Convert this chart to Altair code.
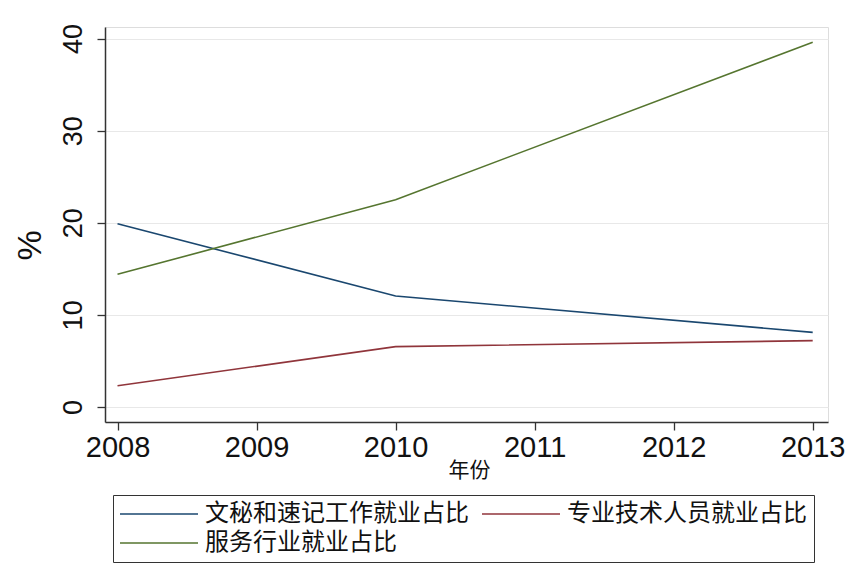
import altair as alt
import pandas as pd

# Data
years = [2008, 2010, 2013]
series_names = ["文秘和速记工作就业占比", "专业技术人员就业占比", "服务行业就业占比"]
secretarial = [19.9, 12.05, 8.1]
professional = [2.3, 6.55, 7.2]
service = [14.4, 22.5, 39.6]
x_ticks = [2008, 2009, 2010, 2011, 2012, 2013]
y_ticks = [0, 10, 20, 30, 40]
colors = ["#1a476f", "#90353b", "#55752f"]

rows = []
for name, vals in zip(series_names, [secretarial, professional, service]):
    for yr, v in zip(years, vals):
        rows.append({"年份": yr, "值": v, "系列": name})
df = pd.DataFrame(rows)

CJK = "Noto Sans CJK SC"
LAT = "Liberation Sans"

chart = (
    alt.Chart(df)
    .mark_line(strokeWidth=1.6)
    .encode(
        x=alt.X(
            "年份:Q",
            scale=alt.Scale(domain=[2007.91, 2013.11], nice=False, zero=False),
            axis=alt.Axis(
                values=x_ticks,
                format="d",
                title="年份",
                titleFont=CJK,
                titleFontSize=21,
                titleFontWeight="normal",
                titleColor="#111",
                titleX=364,
                titleY=48,
                titleBaseline="middle",
                titleAlign="center",
                labelFont=LAT,
                labelFontSize=29,
                labelColor="#111",
                labelPadding=3,
                tickSize=8,
                tickColor="#333",
                tickWidth=1.3,
                domainColor="#333",
                domainWidth=1.5,
                grid=False,
                labelFlush=False,
                labelOverlap=False,
            ),
        ),
        y=alt.Y(
            "值:Q",
            scale=alt.Scale(domain=[-1.63, 41.25], nice=False, zero=False),
            axis=alt.Axis(
                values=y_ticks,
                title="%",
                titleFont=LAT,
                titleFontSize=34,
                titleFontWeight="normal",
                titleColor="#111",
                titleAngle=270,
                titleX=-75,
                titleY=218,
                titleBaseline="middle",
                titleAlign="center",
                labelFont=LAT,
                labelFontSize=27,
                labelColor="#111",
                labelAngle=270,
                labelAlign="center",
                labelBaseline="bottom",
                labelPadding=10,
                tickSize=8,
                tickColor="#333",
                tickWidth=1.3,
                domainColor="#333",
                domainWidth=1.5,
                grid=True,
                gridColor="#e8e8e8",
                gridWidth=1,
                labelFlush=False,
                labelOverlap=False,
            ),
        ),
        color=alt.Color(
            "系列:N",
            scale=alt.Scale(domain=series_names, range=colors),
            sort=series_names,
            legend=alt.Legend(
                title=None,
                orient="none",
                legendX=8,
                legendY=468,
                direction="horizontal",
                columns=2,
                symbolType="M-1.2,0H6.6",
                symbolSize=400,
                symbolStrokeWidth=1.6,
                labelFont=CJK,
                labelFontSize=24,
                labelColor="#111",
                labelOffset=61,
                labelLimit=400,
                rowPadding=5,
                columnPadding=9,
                padding=7,
                strokeColor="#333",
                fillColor="white",
                cornerRadius=0,
            ),
        ),
    )
    .properties(
        width=723,
        height=395,
        autosize=alt.AutoSizeParams(type="none"),
        padding={"left": 97, "top": 19, "right": 30, "bottom": 148},
    )
    .configure_view(stroke=None)
    .configure(background="white")
)

chart.save("out.html", embed_options={"renderer": "svg", "actions": False})
